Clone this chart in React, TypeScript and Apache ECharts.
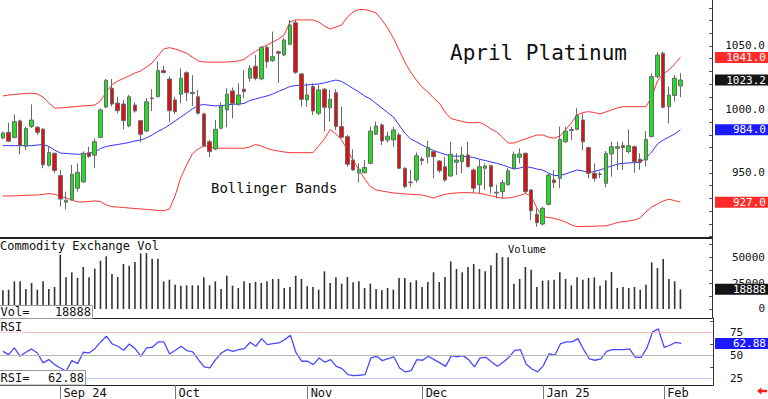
import React, { useEffect, useRef } from "react";
import * as echarts from "echarts";

const dates = [
  "2024-08-19","2024-08-20","2024-08-21","2024-08-22","2024-08-23","2024-08-26","2024-08-27","2024-08-28","2024-08-29","2024-08-30",
  "2024-09-03","2024-09-04","2024-09-05","2024-09-06","2024-09-09","2024-09-10","2024-09-11","2024-09-12","2024-09-13","2024-09-16",
  "2024-09-17","2024-09-18","2024-09-19","2024-09-20","2024-09-23","2024-09-24","2024-09-25","2024-09-26","2024-09-27","2024-09-30",
  "2024-10-01","2024-10-02","2024-10-03","2024-10-04","2024-10-07","2024-10-08","2024-10-09","2024-10-10","2024-10-11","2024-10-14",
  "2024-10-15","2024-10-16","2024-10-17","2024-10-18","2024-10-21","2024-10-22","2024-10-23","2024-10-24","2024-10-25","2024-10-28",
  "2024-10-29","2024-10-30","2024-10-31",
  "2024-11-01","2024-11-04","2024-11-05","2024-11-06","2024-11-07","2024-11-08","2024-11-11","2024-11-12","2024-11-13","2024-11-14",
  "2024-11-15","2024-11-18","2024-11-19","2024-11-20","2024-11-21","2024-11-22","2024-11-25","2024-11-26","2024-11-27","2024-11-29",
  "2024-12-02","2024-12-03","2024-12-04","2024-12-05","2024-12-06","2024-12-09","2024-12-10","2024-12-11","2024-12-12","2024-12-13",
  "2024-12-16","2024-12-17","2024-12-18","2024-12-19","2024-12-20","2024-12-23","2024-12-24","2024-12-26","2024-12-27","2024-12-30",
  "2024-12-31",
  "2025-01-02","2025-01-03","2025-01-06","2025-01-07","2025-01-08","2025-01-09","2025-01-10","2025-01-13","2025-01-14","2025-01-15",
  "2025-01-16","2025-01-17","2025-01-21","2025-01-22","2025-01-23","2025-01-24","2025-01-27","2025-01-28","2025-01-29","2025-01-30",
  "2025-01-31",
  "2025-02-03","2025-02-04","2025-02-05","2025-02-06",
  "2025-02-07","2025-02-10","2025-02-11","2025-02-12","2025-02-13",
];

const monthStartDates = ["2024-09-03", "2024-10-01", "2024-11-01", "2024-12-02", "2025-01-02", "2025-02-03"];
const monthLabels = ["Sep 24", "Oct", "Nov", "Dec", "Jan 25", "Feb"];

const opens = [
  977.6, 982, 978, 991, 971, 986.5, 986, 984.5, 956, 965.5,
  948, 927, 929, 938, 943, 966, 964, 978, 1002, 1016.7,
  1005, 1004.3, 987, 1003.5, 991.2, 983, 1009, 1010, 1030.6, 1024,
  1007.5, 1012, 1029, 1013.5, 1010, 996.5, 974.6, 968.9, 985.2, 999.6,
  1014.6, 1004.1, 1016, 1024.6, 1034, 1024, 1049, 1038.4, 1045.5, 1042.9,
  1051.3, 1068.3, 1028, 1007.5, 1018, 997, 1016, 1001.4, 1013.2, 986.5,
  978.6, 960.2, 950, 950.2, 957.6, 980.5, 987.8, 975.9, 976, 980,
  953.7, 942.8, 944.5, 961, 962.8, 966.8, 959.4, 955, 947.6, 958.4,
  958.9, 964.2, 952.4, 940.7, 953.7, 955.7, 934.8, 935.3, 940.7, 953.7,
  962.4, 965.5, 936.6, 917.5, 909.8, 925.3, 944.5, 945.8, 974.6, 983.5,
  984.4, 991.7, 970, 949.8, 949.2, 941.9, 965, 969.4, 971.5, 966.8,
  970.7, 960.9, 960.2, 978.6, 1025.9, 1044.3, 1002.2, 1011, 1018.5,
];

const closes = [
  981.5, 975, 990.4, 971.5, 985, 991.7, 982, 956.5, 966, 952,
  929.5, 928.5, 949, 950.5, 965.5, 963, 974.6, 999.6, 1023, 1004.3,
  999, 991.2, 1010, 998.8, 980.5, 1006, 1008.5, 1030.6, 1029, 999,
  998.3, 1024.6, 1013.2, 1012.5, 997, 971.3, 966.8, 984.4, 1002.8, 1012,
  1004.9, 1011.4, 1014, 1032.4, 1024.6, 1049, 1037.6, 1041.6, 1044.3, 1054.7,
  1066.5, 1029.3, 1008, 1011.4, 998.8, 1015.4, 1001.7, 1008, 986.5, 978.1,
  956.9, 952.4, 953, 954.3, 983, 987, 975.2, 979, 983.9, 953.7,
  939.2, 942.4, 963.6, 959.7, 970, 962.8, 951.8, 944.5, 964.7, 960.2,
  964.2, 955, 938, 955, 955.5, 939.2, 934.2, 942.4, 951.8, 964.7,
  965, 935.3, 920.3, 910.9, 922.2, 948.4, 942.4, 976.5, 983, 984.2,
  995.2, 974.6, 949.8, 945.8, 948.8, 965.5, 970.7, 970.7, 970, 971.5,
  958.9, 958.4, 976.5, 1025.9, 1042.9, 1001.7, 1011.4, 1024.6, 1023.2,
];

const lows = [
  976.5, 974.6, 977.3, 964.7, 968, 985.5, 980, 953.7, 955, 949.8,
  923.5, 921.4, 928, 935.3, 942, 962, 953.7, 977.3, 1001, 1002.5,
  997, 984.4, 986, 997.5, 974.2, 982.5, 998.8, 1009.6, 1028.5, 990.4,
  996.5, 1004.9, 1006.7, 1002.8, 996, 970.5, 962.4, 968, 984.4, 986,
  993, 1002.8, 1008.8, 1022, 1023, 1023, 1032.9, 1037.5, 1021, 1042,
  1050.5, 1028, 1002.2, 1002.2, 995.7, 995.7, 982.5, 990.4, 983.9, 977.3,
  955, 951.8, 942.4, 949.8, 956.9, 979.9, 972, 973.9, 970.7, 952.9,
  938.2, 939.2, 942.4, 956.3, 957.6, 945.8, 950.2, 943.2, 946.9, 948.4,
  949.8, 954.3, 934.5, 934, 936.6, 934, 930, 930, 940, 953,
  957.6, 934, 913, 907.7, 908.5, 924.5, 938, 938, 973.7, 976,
  983.5, 968.1, 945.8, 943.2, 946, 938.8, 947, 952.4, 952.4, 965.5,
  950.2, 952.4, 955, 978.1, 1024.5, 1001, 989, 1006.2, 1009.6,
];

const highs = [
  982.5, 989.6, 996.2, 992, 986.5, 1004, 987, 985.5, 970.7, 966,
  952.4, 935.3, 956.3, 957.6, 967, 970.7, 977.3, 1001, 1024, 1024,
  1010, 1007.5, 1011.5, 1005.4, 991.7, 1008.8, 1016, 1037.6, 1034.5, 1026,
  1010, 1032.4, 1030, 1027, 1015.4, 997.5, 976, 991.7, 1005.4, 1016.7,
  1017.3, 1020.6, 1031, 1035, 1042.9, 1050, 1050, 1061.3, 1046.3, 1056.5,
  1070.5, 1070.5, 1028.5, 1020.6, 1020.6, 1019.3, 1016.8, 1015.4, 1015.9, 1002.2,
  980, 968.7, 957.6, 960.2, 986.5, 990.4, 989.1, 982.5, 986.5, 981.5,
  954.5, 952.4, 966.1, 963, 975.2, 967.3, 960.2, 962.8, 974.6, 965.5,
  970.7, 974.6, 953.5, 960.2, 957.6, 956.5, 940.7, 944.5, 953.7, 966.8,
  969.4, 966.1, 937.4, 922.2, 923.5, 949.2, 952.4, 986.5, 986.5, 986.5,
  1001, 997, 970.7, 957.6, 951, 967.3, 974.6, 974.6, 974.6, 984.4,
  971.5, 965.5, 983, 1028.5, 1045, 1045.5, 1018, 1027.2, 1028.5,
];

const upperBand = [
  1010.6, 1011.4, 1011.8, 1012.2, 1012.6, 1012.8, 1012.2, 1009.8, 1005.1, 1001.2,
  1001.2, 1001.6, 1002, 1002.4, 1002.8, 1003.1, 1003.5, 1006.7, 1013.8, 1019.3,
  1022.4, 1024.4, 1026.4, 1028.7, 1030.3, 1033.5, 1036.6, 1042.1, 1047.6, 1048.7,
  1047.6, 1046.1, 1044.3, 1041.3, 1038.2, 1037.4, 1037.2, 1037.2, 1037.2, 1037.4,
  1037.6, 1038.2, 1039.4, 1042.9, 1045.7, 1048.4, 1050.8, 1053.1, 1055.5, 1058.7,
  1068.9, 1070.5, 1070.5, 1070.5, 1070.5, 1068.9, 1065.7, 1063.4, 1065, 1066.5,
  1072.8, 1076.8, 1078.7, 1078.7, 1077.6, 1076, 1070.5, 1064.2, 1056.3, 1046.9,
  1037.4, 1029.5, 1023.2, 1017.7, 1013.8, 1009, 1005.1, 998, 992.9, 991.7,
  990.6, 989.6, 989.6, 989.8, 987.8, 984.6, 982.3, 978.3, 973.6, 973.6,
  975.2, 976.8, 978.3, 979.9, 979.9, 978.3, 977.3, 979.1, 983.9, 989.4,
  995.7, 997.6, 998.3, 997.6, 996.5, 998, 999.6, 1001.2, 1002.2, 1002.2,
  1002.2, 1002.2, 1002.2, 1009.8, 1022.4, 1028, 1031.1, 1035.8, 1041.0,
];

const middleBand = [
  971.5, 971.5, 971.5, 971.5, 971.5, 971.5, 972, 972.4, 970.9, 968.1,
  965.7, 965.4, 965, 964.8, 964.7, 965.4, 966.5, 969.3, 970.9, 971.7,
  972.4, 973.2, 974, 975.2, 976, 977.6, 979.9, 982.7, 985, 987.8,
  990.9, 994.1, 997.2, 1000.4, 1003.1, 1003.9, 1003.3, 1002.8, 1003, 1003.5,
  1004.1, 1004.3, 1004.7, 1007.1, 1008.3, 1009.5, 1010.6, 1012.2, 1014.2, 1016.1,
  1018.1, 1018.9, 1019.1, 1019.3, 1019.7, 1020.1, 1020.9, 1022.1, 1023.2, 1022.1,
  1019.3, 1016.5, 1013.8, 1010.6, 1008.3, 1004.7, 1001.2, 997.6, 994.1, 987.8,
  981.5, 976.8, 974.6, 972, 969.7, 967.7, 966.1, 964.6, 963.4, 963.2,
  963.1, 962.8, 962.2, 960.8, 959.8, 958.7, 957.6, 956.3, 954.7, 953.1,
  953.9, 955, 954.3, 953.1, 952.4, 950, 948, 948, 949.2, 950.8,
  952.4, 951.6, 950.4, 951.2, 952.4, 953.9, 955.5, 956.9, 957.6, 957.9,
  958.1, 958.3, 961.8, 966.5, 972.8, 976, 978.3, 980.7, 984.0,
];

const lowerBand = [
  931.9, 931.9, 932, 932.2, 932.4, 932.5, 932.7, 933.1, 933.9, 933.1,
  931.9, 930.3, 928.7, 927.2, 927.2, 927.6, 928, 927.6, 924.8, 923.5,
  923.2, 922.8, 922.4, 922, 921.7, 921.3, 920.9, 920.5, 920.3, 921.5,
  932, 946.5, 956.3, 965, 968.9, 971.3, 970.9, 969.7, 969.5, 969.5,
  969.5, 969.5, 969.5, 970.5, 972.4, 971.3, 969.3, 968.1, 967.3, 966.5,
  966, 966, 966, 966, 966, 971.3, 976.8, 984.3, 980.7, 976,
  968.1, 960.2, 952.4, 945.3, 939.4, 936.6, 935.8, 935, 934.3, 933.9,
  933.5, 933.2, 932.9, 932.7, 931.5, 930.3, 931.9, 933.2, 933.9, 934.3,
  934.5, 934.5, 934.3, 934, 933.1, 931.9, 931.1, 930.1, 930.3, 931.1,
  932.3, 933.9, 931.9, 922.4, 915.6, 915, 914.3, 913, 911.4, 909.1,
  907.7, 907.9, 908, 908.1, 908.3, 908.3, 909.5, 911, 911.7, 912.2,
  913, 914.6, 919.3, 923.2, 925.6, 928, 929.3, 928.3, 927.0,
];

const volumes = [
  17950, 18590, 26600, 26600, 19230, 25000, 18590, 26600, 19230, 21150,
  52240, 30450, 35260, 29800, 40380, 30450, 38780, 46470, 50640, 33650,
  30770, 43270, 41670, 45190, 53530, 53840, 48400, 48400, 26600, 28200,
  23400, 22440, 22760, 22760, 22760, 30450, 22760, 26600, 19230, 32050,
  22440, 20190, 26600, 25000, 25960, 25000, 26600, 28850, 28850, 20190,
  21150, 32050, 28850, 21800, 21150, 18590, 36220, 25000, 30450, 24360,
  30770, 25640, 26600, 20190, 24360, 19230, 17950, 20190, 18590, 29800,
  29800, 25640, 27560, 21150, 25960, 35260, 25960, 30770, 45830, 38460,
  35260, 40380, 43270, 38460, 36220, 41990, 53840, 49990, 49670, 24360,
  28850, 40380, 37820, 21150, 27240, 27560, 28200, 35260, 28850, 22760,
  30450, 28200, 29800, 30450, 22440, 27560, 35580, 20190, 21150, 20190,
  21150, 18590, 23400, 44870, 39420, 48080, 28850, 26600, 18888,
];

const rsi = [
  54.3, 50.7, 58, 48.9, 53.3, 56.9, 52.5, 41.7, 45.3, 39.9,
  36.2, 32.6, 44.2, 40.9, 53.3, 52.5, 57.2, 64.5, 70.7, 62.3,
  59.8, 55.4, 62.3, 57.2, 48.9, 58, 58.7, 64.5, 64.5, 51.4,
  55.4, 59.8, 55.1, 53.6, 45.3, 37.3, 36.2, 45.3, 52.5, 56.2,
  54.3, 56.2, 57.2, 64.1, 59.8, 68.1, 61.6, 62.7, 63.4, 67,
  71.7, 52.5, 43.5, 43.5, 39.9, 47.1, 42.4, 45.3, 38, 35.5,
  29, 27.9, 28.3, 29, 47.1, 48.9, 44.2, 46.4, 48.2, 36.2,
  31.9, 33.3, 45.3, 44.6, 48.9, 45.3, 41.7, 38, 49.6, 48.2,
  49.6, 45.3, 37.3, 47.1, 47.8, 42.8, 38, 42.4, 47.8, 55.4,
  56.2, 40.6, 35.1, 31.9, 38.8, 51.8, 50, 62.7, 64.5, 64.5,
  68.1, 56.2, 46, 44.6, 46, 54.3, 56.2, 56.2, 56.2, 56.9,
  47.8, 47.8, 58, 75.4, 78.6, 58.7, 60.9, 64.1, 62.88,
];

const priceLabels = [950, 1000, 1050];
const priceTicks = [900, 910, 920, 930, 940, 950, 960, 970, 980, 990, 1000, 1010, 1020, 1030, 1040, 1050, 1060, 1070, 1080];
const volumeLabels = [0, 25000, 50000];
const volumeTicks = [0, 12500, 25000, 37500, 50000, 62500];
const rsiLabels = [25, 50, 75];
const rsiTicks = [25, 37.5, 50, 62.5, 75, 87.5];
const rsiLevels = [75, 50, 25];

const titleText = "April Platinum";
const bandsText = "Bollinger Bands";
const volPanelText = "Commodity Exchange Vol";
const volumeText = "Volume";
const rsiPanelText = "RSI";
const volBoxText = "Vol=";
const rsiBoxText = "RSI=";

const MONO = '"DejaVu Sans Mono", monospace';

export default function App() {
  const ref = useRef<HTMLDivElement>(null);

  useEffect(() => {
    const chart = echarts.init(ref.current as HTMLDivElement, null, { renderer: "svg" });
    const isMonth = (_i: number, v: string) => monthStartDates.indexOf(v) >= 0;
    const candles = opens.map((o, i) => [o, closes[i], lows[i], highs[i]]);

    const xAxis = [0, 1, 2].map((k) => ({
      type: "category",
      gridIndex: k,
      data: dates,
      boundaryGap: true,
      axisLine: { show: true, onZero: false, lineStyle: { color: "#222", width: k === 0 ? 2 : 1.2 } },
      axisTick: {
        show: k === 2,
        alignWithLabel: true,
        interval: isMonth,
        length: 14,
        lineStyle: { color: "#777", width: 1 },
      },
      axisLabel: {
        show: k === 2,
        interval: isMonth,
        hideOverlap: false,
        formatter: (v: string) => {
          const j = monthStartDates.indexOf(v);
          return j >= 0 ? monthLabels[j] : "";
        },
        align: "left",
        verticalAlign: "top",
        margin: 2,
        padding: [0, 0, 0, 3],
        fontFamily: MONO,
        fontSize: 12,
        color: "#111",
      },
      splitLine: { show: false },
    }));

    const yBase = {
      position: "right",
      axisLine: { show: true, lineStyle: { color: "#333", width: 1 } },
      splitLine: { show: false },
    };

    const option: any = {
      animation: false,
      backgroundColor: "#ffffff",
      textStyle: { fontFamily: MONO },
      grid: [
        { left: 0, top: 0, width: 713, height: 238 },
        { left: 0, top: 238, width: 713, height: 80 },
        { left: 0, top: 318, width: 713, height: 67 },
      ],
      xAxis,
      yAxis: [
        {
          ...yBase,
          gridIndex: 0,
          min: 898.8,
          max: 1086.2,
          axisTick: { show: true, inside: true, length: 3, customValues: priceTicks, lineStyle: { color: "#555" } },
          axisLabel: {
            customValues: priceLabels,
            formatter: (v: number) => v.toFixed(1),
            align: "right",
            margin: 53,
            fontFamily: MONO,
            fontSize: 11,
            lineHeight: 11,
            color: "#111",
          },
        },
        {
          ...yBase,
          gridIndex: 1,
          min: -8654,
          max: 68270,
          axisTick: { show: true, inside: true, length: 3, customValues: volumeTicks, lineStyle: { color: "#555" } },
          axisLabel: {
            customValues: volumeLabels,
            formatter: (v: number) => String(v),
            align: "right",
            margin: 53,
            fontFamily: MONO,
            fontSize: 11,
            lineHeight: 11,
            color: "#111",
          },
        },
        {
          ...yBase,
          gridIndex: 2,
          min: 17.7,
          max: 90.5,
          axisTick: { show: true, inside: true, length: 3, customValues: rsiTicks, lineStyle: { color: "#555" } },
          axisLabel: {
            customValues: rsiLabels,
            formatter: (v: number) => String(v),
            align: "left",
            margin: 17,
            fontFamily: MONO,
            fontSize: 11,
            lineHeight: 11,
            color: "#111",
          },
        },
      ],
      series: [
        {
          type: "line",
          xAxisIndex: 0,
          yAxisIndex: 0,
          data: upperBand,
          symbol: "none",
          lineStyle: { color: "#ff3333", width: 1 },
          z: 1,
        },
        {
          type: "line",
          xAxisIndex: 0,
          yAxisIndex: 0,
          data: middleBand,
          symbol: "none",
          lineStyle: { color: "#3333ff", width: 1 },
          z: 1,
        },
        {
          type: "line",
          xAxisIndex: 0,
          yAxisIndex: 0,
          data: lowerBand,
          symbol: "none",
          lineStyle: { color: "#ff3333", width: 1 },
          z: 1,
        },
        {
          type: "candlestick",
          xAxisIndex: 0,
          yAxisIndex: 0,
          data: candles,
          barWidth: 4,
          itemStyle: {
            color: "#22dd22",
            color0: "#dd1111",
            borderColor: "#6a6a6a",
            borderColor0: "#6a6a6a",
            borderWidth: 1,
          },
          z: 3,
        },
        {
          type: "bar",
          xAxisIndex: 1,
          yAxisIndex: 1,
          data: volumes,
          barWidth: 1.6,
          itemStyle: { color: "#333333" },
        },
        {
          type: "line",
          xAxisIndex: 2,
          yAxisIndex: 2,
          data: rsi,
          symbol: "none",
          lineStyle: { color: "#4a4aff", width: 1.3 },
          z: 3,
          markLine: {
            silent: true,
            symbol: ["none", "none"],
            label: { show: false },
            lineStyle: { type: "solid", width: 1 },
            data: rsiLevels.map((lv, j) => ({
              yAxis: lv,
              lineStyle: { color: ["#f6b4b4", "#b8b8b8", "#c6c6ff"][j], type: "solid", width: 1 },
            })),
          },
        },
      ],
    };

    chart.setOption(option);

    const n = closes.length - 1;
    const tags = [
      { v: upperBand[n], axis: 0, bg: "#ff2a2a", text: upperBand[n].toFixed(1) },
      { v: closes[n], axis: 0, bg: "#151515", text: closes[n].toFixed(1) },
      { v: middleBand[n], axis: 0, bg: "#1a1aff", text: middleBand[n].toFixed(1) },
      { v: lowerBand[n], axis: 0, bg: "#ff2a2a", text: lowerBand[n].toFixed(1) },
      { v: volumes[n], axis: 1, bg: "#151515", text: String(volumes[n]) },
      { v: rsi[n], axis: 2, bg: "#1a1aff", text: rsi[n].toFixed(2) },
    ];

    const txt = (text: string, x: number, y: number, size: number, extra: any = {}) => ({
      type: "text",
      x,
      y,
      z: 100,
      style: {
        text,
        font: `${size}px ${MONO}`,
        fill: "#111",
        align: "left",
        verticalAlign: "middle",
        ...extra,
      },
    });

    const graphic: any[] = [
      txt(titleText, 450, 53, 21),
      txt(bandsText, 211, 188, 14),
      txt(volPanelText, 0, 245.5, 12),
      txt(volumeText, 508, 248.6, 10.5),
      { type: "rect", z: 99, shape: { x: 0, y: 321.5, width: 23, height: 11 }, style: { fill: "#ffffff" } },
      txt(rsiPanelText, 0.5, 327, 12),
      {
        type: "rect",
        z: 99,
        shape: { x: -1, y: 305.5, width: 93.5, height: 13 },
        style: { fill: "#ffffff", stroke: "#9a9a9a", lineWidth: 1 },
      },
      txt(volBoxText, 0.5, 311.5, 12),
      txt(String(volumes[n]), 91, 311.5, 12, { align: "right" }),
      {
        type: "rect",
        z: 99,
        shape: { x: -1, y: 370.5, width: 86.5, height: 14.5 },
        style: { fill: "#ffffff", stroke: "#9a9a9a", lineWidth: 1 },
      },
      txt(rsiBoxText, 0.5, 378, 12),
      txt(rsi[n].toFixed(2), 84, 378, 12, { align: "right" }),
      {
        type: "polygon",
        z: 100,
        shape: {
          points: [[757, 391], [761.5, 387.5], [761.5, 389.8], [767, 389.8], [767, 392.2], [761.5, 392.2], [761.5, 394.5]],
        },
        style: { fill: "#ff1a1a" },
      },
    ];

    tags.forEach((t) => {
      const y = chart.convertToPixel({ yAxisIndex: t.axis } as any, t.v) as unknown as number;
      graphic.push({
        type: "rect",
        z: 101,
        shape: { x: 715, y: y - 5.5, width: 53, height: 11 },
        style: { fill: t.bg },
      });
      const label: any = txt(t.text, 766, y, 11, { align: "right", fill: "#ffffff" });
      label.z = 102;
      graphic.push(label);
    });

    chart.setOption({ graphic });

    return () => chart.dispose();
  }, []);

  return <div ref={ref} style={{ position: "fixed", left: 0, top: 0, width: 768, height: 399 }} />;
}
